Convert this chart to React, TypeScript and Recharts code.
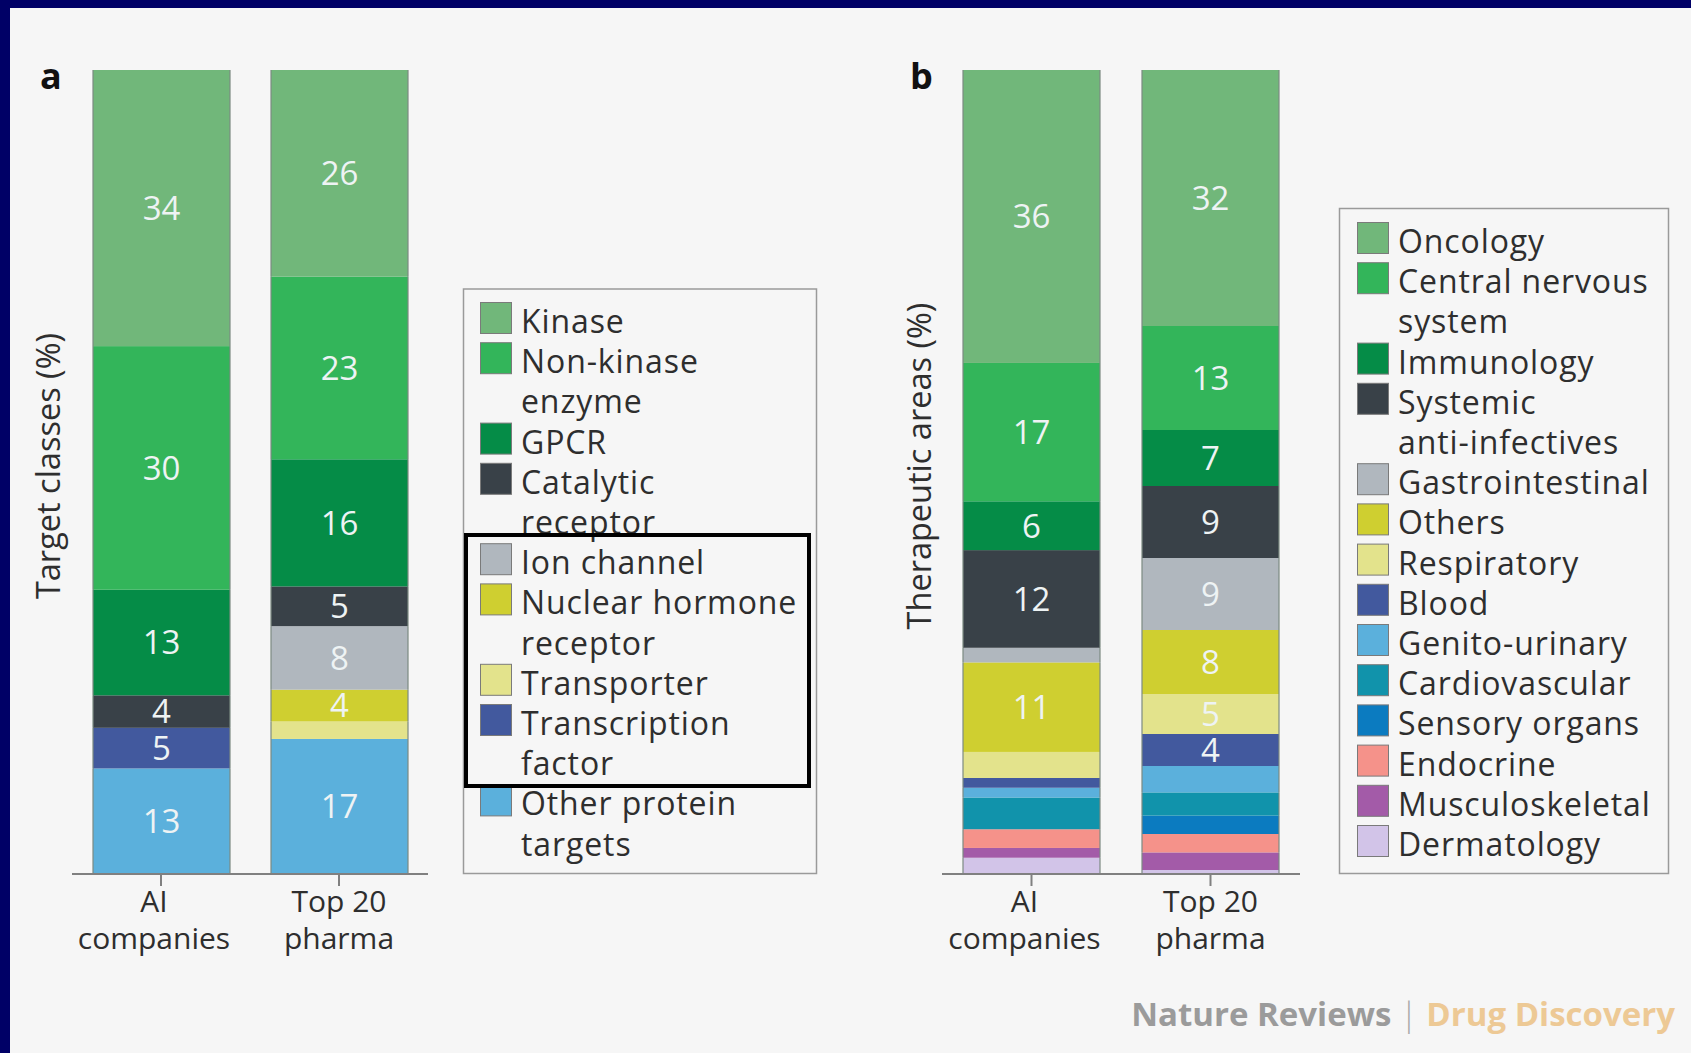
import { BarChart, Bar, XAxis, YAxis, LabelList, Label } from 'recharts';

const bars = ['AI\ncompanies', 'Top 20\npharma'];

// panel a: target classes (%), listed top of stack first
const targetClasses = ['Kinase', 'Non-kinase\nenzyme', 'GPCR', 'Catalytic\nreceptor', 'Ion channel', 'Nuclear hormone\nreceptor', 'Transporter', 'Transcription\nfactor', 'Other protein\ntargets'];
const targetColors = ['#71b77a', '#33b55a', '#058c47', '#394148', '#b0b7be', '#cfcf30', '#e3e38c', '#42599e', '#5bb0dc'];
const aiTargets = [34, 30, 13, 4, 0, 0, 0, 5, 13];
const pharmaTargets = [26, 23, 16, 5, 8, 4, 2.2, 0, 17];

// panel b: therapeutic areas (%)
const areas = ['Oncology', 'Central nervous\nsystem', 'Immunology', 'Systemic\nanti-infectives', 'Gastrointestinal', 'Others', 'Respiratory', 'Blood', 'Genito-urinary', 'Cardiovascular', 'Sensory organs', 'Endocrine', 'Musculoskeletal', 'Dermatology'];
const areaColors = ['#71b77a', '#33b55a', '#058c47', '#394148', '#b0b7be', '#cfcf30', '#e3e38c', '#42599e', '#5bb0dc', '#1193ab', '#0b7bc0', '#f5928a', '#a35ba8', '#d2c4e8'];
const aiAreas = [36, 17, 6, 12, 1.8, 11, 3.2, 1.2, 1.2, 3.9, 0, 2.3, 1.2, 2];
const pharmaAreas = [32, 13, 7, 9, 9, 8, 5, 4, 3.3, 2.9, 2.3, 2.3, 2.2, 0.5];

const FONT = '"Open Sans", sans-serif';
const TEXT = '#2e2e2e';

const makeRows = (names: string[], ai: number[], pharma: number[]) =>
  bars.map((b, i) => {
    const row: any = { name: b };
    names.forEach((_, j) => { row['s' + j] = (i === 0 ? ai : pharma)[j]; });
    return row;
  });

const targetRows = makeRows(targetClasses, aiTargets, pharmaTargets);
const areaRows = makeRows(areas, aiAreas, pharmaAreas);

const Segment = (p: any) => {
  const { x, y, width, height, fill } = p;
  if (!height) return null;
  const top = Math.min(y, y + height);
  const h = Math.abs(height);
  return (
    <g>
      <rect x={x} y={top} width={width} height={h} fill={fill} />
      <line x1={x} x2={x} y1={top} y2={top + h} stroke="#7c8a82" strokeWidth={1.2} />
      <line x1={x + width} x2={x + width} y1={top} y2={top + h} stroke="#7c8a82" strokeWidth={1.2} />
    </g>
  );
};

const BarTick = ({ x, y, payload, index }: any) => {
  const lines = String(payload.value).split('\n');
  const cx = index === 0 ? x - 7 : x;
  return (
    <text x={cx} y={y} textAnchor="middle" fontSize={30} fill={TEXT} fontFamily={FONT}>
      {lines.map((l, i) => (
        <tspan key={i} x={cx} y={y + 24 + i * 36.7}>{l}</tspan>
      ))}
    </text>
  );
};

const AxisTitle = ({ viewBox, value }: any) => {
  const cx = viewBox.x + viewBox.width / 2;
  const cy = viewBox.y + viewBox.height / 2 - 6;
  return (
    <text x={cx} y={cy} dy="0.36em" textAnchor="middle" transform={`rotate(-90, ${cx}, ${cy})`}
      fontSize={32.5} fill={TEXT} fontFamily={FONT}>{value}</text>
  );
};

const valueLabel = (rows: any[], key: string) => (p: any) => {
  const v = rows[p.index]?.[key];
  if (!(v >= 4)) return null;
  const vb = p.viewBox || p;
  return (
    <text x={vb.x + vb.width / 2} y={vb.y + vb.height / 2} dy="0.36em" textAnchor="middle"
      fontSize={33} fill="#eef3f4" fontFamily={FONT}>{v}</text>
  );
};

function StackPanel({ rows, names, colors, yLabel, left, width, margin, yWidth }: any) {
  const order = names.map((_: string, i: number) => i).reverse();
  return (
    <div style={{ position: 'absolute', left, top: 0 }}>
      <BarChart width={width} height={1000} data={rows} stackOffset="expand" barSize={137} margin={margin}>
        <XAxis dataKey="name" height={80} tick={<BarTick />} tickSize={12}
          axisLine={{ stroke: '#808080', strokeWidth: 2 }} tickLine={{ stroke: '#808080', strokeWidth: 2 }} interval={0} />
        <YAxis width={yWidth} domain={[0, 1]} tick={false} axisLine={false} tickLine={false}>
          <Label value={yLabel} content={<AxisTitle value={yLabel} />} />
        </YAxis>
        {order.map((i: number) => (
          <Bar key={i} dataKey={'s' + i} name={names[i]} stackId="a" fill={colors[i]}
            shape={<Segment />} isAnimationActive={false}>
            <LabelList dataKey={'s' + i} content={valueLabel(rows, 's' + i)} />
          </Bar>
        ))}
      </BarChart>
    </div>
  );
}

function LegendBlock({ names, colors, box, swatchX, textX, firstBaseline }: any) {
  let line = 0;
  return (
    <g>
      <rect x={box[0]} y={box[1]} width={box[2]} height={box[3]} fill="none" stroke="#9a9a9a" strokeWidth={1.5} />
      {names.map((n: string, i: number) => {
        const parts = n.split('\n');
        const base = firstBaseline + line * 40.2;
        line += parts.length;
        return (
          <g key={i}>
            <rect x={swatchX} y={base - 30.5} width={31} height={31} fill={colors[i]} stroke="#7a7a7a" strokeWidth={1} />
            <text x={textX} y={base} fontSize={32} letterSpacing={0.9} fill={TEXT} fontFamily={FONT}>
              {parts.map((t, k) => (
                <tspan key={k} x={textX} y={base + k * 40.2}>{t}</tspan>
              ))}
            </text>
          </g>
        );
      })}
    </g>
  );
}

export default function App() {
  return (
    <div style={{ position: 'absolute', left: 0, top: 0, width: 1691, height: 1053, background: '#f6f6f6', fontFamily: FONT, overflow: 'hidden' }}>
      <StackPanel rows={targetRows} names={targetClasses} colors={targetColors} yLabel="Target classes (%)"
        left={0} width={440} margin={{ top: 70, right: 12, bottom: 46, left: 25 }} yWidth={47} />
      <StackPanel rows={areaRows} names={areas} colors={areaColors} yLabel="Therapeutic areas (%)"
        left={850} width={470} margin={{ top: 70, right: 20, bottom: 46, left: 46 }} yWidth={46} />
      <svg width={1691} height={1053} style={{ position: 'absolute', left: 0, top: 0, pointerEvents: 'none' }}>
        <text x={40} y={89} fontSize={36} fontWeight={700} fill="#111" fontFamily={FONT}>a</text>
        <text x={910} y={89} fontSize={36} fontWeight={700} fill="#111" fontFamily={FONT}>b</text>
        <LegendBlock names={targetClasses} colors={targetColors} box={[463.5, 289, 353, 584.5]}
          swatchX={480.5} textX={521} firstBaseline={333} />
        <LegendBlock names={areas} colors={areaColors} box={[1339.5, 208.5, 329, 665]}
          swatchX={1357.5} textX={1398} firstBaseline={253} />
        <rect x={466} y={535} width={343} height={251} fill="none" stroke="#000" strokeWidth={4} />
        <text x={1675} y={1026} textAnchor="end" fontSize={33} fontWeight={700} fontFamily={FONT}>
          <tspan fill="#9b9b9b">Nature Reviews</tspan>
          <tspan fill="#a8a8a8" fontWeight={300}> | </tspan>
          <tspan fill="#edc995">Drug Discovery</tspan>
        </text>
      </svg>
      <div style={{ position: 'absolute', left: 0, top: 0, width: 1691, height: 8, background: '#000066' }} />
      <div style={{ position: 'absolute', left: 0, top: 0, width: 10, height: 1053, background: '#000066' }} />
    </div>
  );
}
